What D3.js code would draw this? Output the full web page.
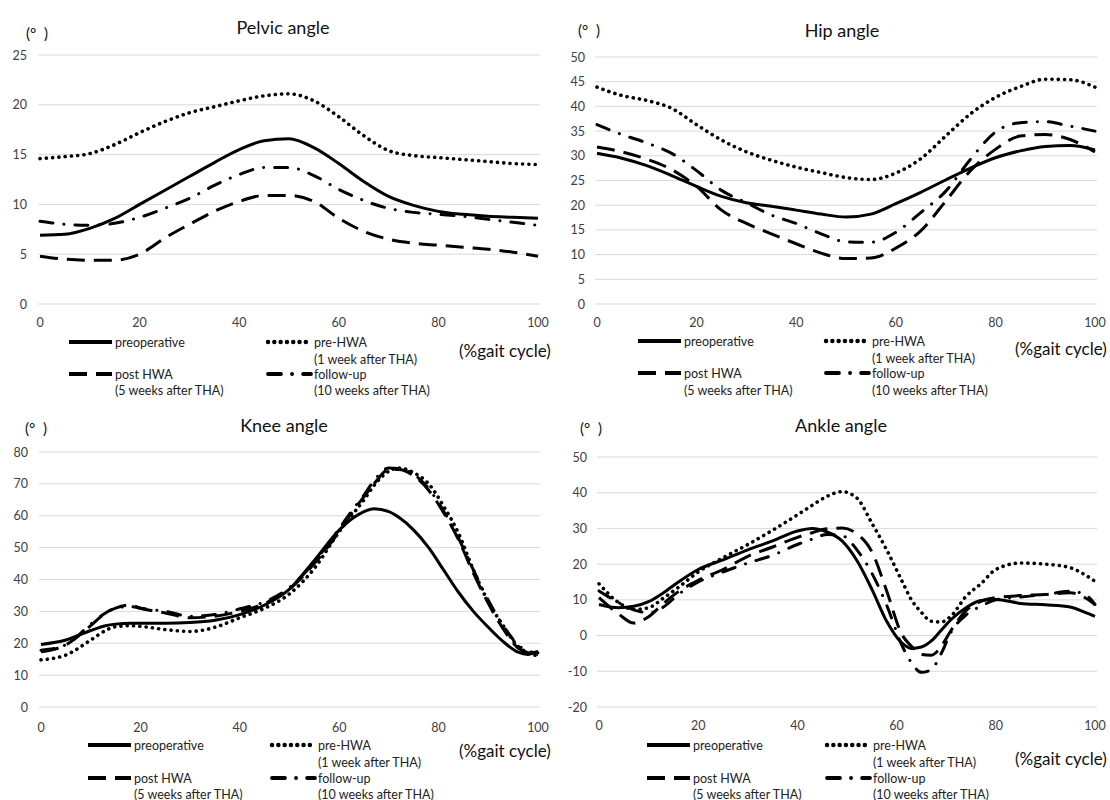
<!DOCTYPE html>
<html>
<head>
<meta charset="utf-8">
<script src="https://cdn.jsdelivr.net/npm/d3@7"></script>
<style>
  body { margin: 0; background: #fff; }
  svg { display: block; font-family: Lato, "Noto Sans", sans-serif; }
</style>
</head>
<body>
<svg id="chart" width="1110" height="800"></svg>
<script>
// ---- data ----
const seriesNames = ["preoperative", "pre-HWA", "post HWA", "follow-up"];
const seriesNotes = [null, "(1 week after THA)", "(5 weeks after THA)", "(10 weeks after THA)"];
const xTicks = [0, 20, 40, 60, 80, 100];

const pelvicX = [0,5,10,15,20,25,30,35,40,45,50,55,60,65,70,75,80,85,90,95,100];
const pelvicPreop   = [6.9,7.0,7.6,8.6,10.0,11.4,12.8,14.2,15.5,16.4,16.6,15.7,14.1,12.3,10.8,9.9,9.3,9.0,8.8,8.7,8.6];
const pelvicPreHWA  = [14.6,14.8,15.1,16.0,17.2,18.3,19.2,19.8,20.4,20.9,21.1,20.4,18.8,16.9,15.4,14.9,14.7,14.5,14.3,14.1,14.0];
const pelvicPostHWA = [4.8,4.5,4.4,4.4,5.0,6.6,8.0,9.3,10.3,10.9,10.9,10.3,8.6,7.3,6.5,6.1,5.9,5.7,5.5,5.2,4.8];
const pelvicFollow  = [8.3,8.0,7.9,8.1,8.7,9.6,10.6,11.9,13.0,13.7,13.7,12.9,11.5,10.4,9.6,9.2,9.0,8.8,8.5,8.2,7.9];
const pelvicTicks = [0,5,10,15,20,25];

const hipX = [0,5,10,15,20,25,30,35,40,45,50,55,60,65,70,75,80,85,90,95,100];
const hipPreop   = [30.5,29.5,28.0,26.0,23.8,21.8,20.5,19.8,19.0,18.2,17.6,18.2,20.3,22.6,25.1,27.5,29.6,31.0,31.9,32.1,31.2];
const hipPreHWA  = [43.9,42.2,41.2,39.6,36.3,33.2,30.8,29.1,27.7,26.6,25.6,25.2,26.5,29.4,34.0,38.5,41.8,44.0,45.5,45.4,43.9];
const hipPostHWA = [31.8,30.8,29.3,27.2,23.8,19.0,16.3,14.2,12.2,10.3,9.2,9.3,11.3,14.8,20.8,27.0,31.3,34.0,34.3,33.3,30.8];
const hipFollow  = [36.3,34.3,32.6,30.5,27.0,23.0,20.5,18.0,16.3,14.2,12.6,12.5,14.5,18.5,22.8,29.3,34.8,36.7,36.9,36.0,35.0];
const hipTicks = [0,5,10,15,20,25,30,35,40,45,50];

const kneeX = [0,5,10,13,15,18,20,25,30,35,40,45,50,55,60,63,65,67,70,72,75,78,81,84,87,90,93,96,98,100];
const kneePreop   = [19.6,21,24,25.5,26,26.3,26.3,26.3,26.5,27.2,29,32,37,46,55.5,59.5,61.3,62.2,61.3,59.5,55.5,50,43,36,30,25,20.5,17.2,16.5,17.5];
const kneePreHWA  = [14.8,16.3,21,24,25.2,25.5,25.3,24.3,23.7,25,28,31,35.5,43.5,55,61,65,69.5,74,75,73.5,70,63,54.5,43,33,25.5,19,17,16];
const kneePostHWA = [17.3,19.5,25.5,29.5,31,32,31,29.5,28,28.5,30,32.5,37,45,55,62,66,70,74.5,74.5,72.5,68,61,52.5,42,32.5,24.5,18.5,17,16.5];
const kneeFollow  = [17.8,19.5,26,29.5,31,31.5,31,30,28.5,29,30.8,33,37.5,45.5,56,62.5,66.5,71,75,74.8,73,68.5,61.5,53,43,33.5,25.5,19.5,17.5,17];
const kneeTicks = [0,10,20,30,40,50,60,70,80];

const ankleX = [0,4,7,10,13,16,20,25,30,35,40,43,46,49,52,55,58,61,63,65,67,69,71,74,77,80,85,90,95,98,100];
const anklePreop   = [8.7,7.8,8.2,9.5,12,15,18.5,21.2,24,26.5,29.3,30,29,26.5,21,13,4,-2,-3.6,-3.2,-1.5,1.5,4.5,7.8,9.8,10.1,9,8.6,8,6.5,5.4];
const anklePreHWA  = [14.5,9.2,7.3,7.8,10.5,13.5,17.8,21.8,25.5,29.5,33.8,36.5,39,40.3,38.5,31.5,24,15.5,10,6.5,4,3.8,5.5,11,14.5,18.5,20.3,20,19,17,15.2];
const anklePostHWA = [10.6,6,3.5,5.3,9,12.3,15.5,18.5,22.2,24.8,27.5,28.8,29.9,30.1,28.5,23.5,12.5,0.5,-3,-5.3,-5.5,-3,1.5,7,9.6,10.6,11.2,11.5,12,10.6,8.7];
const ankleFollow  = [12.5,9.2,7.2,6.4,8,11.5,15,17.8,20.3,22.5,25.5,27,28.3,28,24,17.5,8.5,-2.5,-7.6,-10.3,-9.5,-5,1,5.8,8.2,10,10.8,11.5,12.4,11.5,8.7];
const ankleTicks = [-20,-10,0,10,20,30,40,50];

// ---- line styles for the four series ----
const lineStyles = [
  { dash: null,             width: 3,   cap: "butt"  },
  { dash: "0.1 6.2",        width: 3.6, cap: "round" },
  { dash: "18 9",           width: 3,   cap: "butt"  },
  { dash: "13 11 0.1 11",   width: 3,   cap: "round" }
];

// ---- panels (layout lives here, values come from the arrays above) ----
const panels = [
  { title: "Pelvic angle", xs: pelvicX, series: [pelvicPreop, pelvicPreHWA, pelvicPostHWA, pelvicFollow],
    yTicks: pelvicTicks, x0: 40, x1: 538, yTop: 55, yBot: 304, titleX: 283, titleY: 27,
    unitX: 26, unitY: 33, tickRight: 27, xLabelY: 322,
    legend: { c1: 69, c2: 268, rows: [342, 359, 374, 390] }, gait: [459, 350] },
  { title: "Hip angle", xs: hipX, series: [hipPreop, hipPreHWA, hipPostHWA, hipFollow],
    yTicks: hipTicks, x0: 597, x1: 1095, yTop: 57, yBot: 304, titleX: 842, titleY: 30,
    unitX: 578, unitY: 30, tickRight: 585, xLabelY: 322,
    legend: { c1: 638, c2: 826, rows: [341, 358, 373, 390] }, gait: [1015, 348] },
  { title: "Knee angle", xs: kneeX, series: [kneePreop, kneePreHWA, kneePostHWA, kneeFollow],
    yTicks: kneeTicks, x0: 41, x1: 538, yTop: 452, yBot: 707, titleX: 284, titleY: 425,
    unitX: 25, unitY: 428, tickRight: 28, xLabelY: 727,
    legend: { c1: 88, c2: 272, rows: [745, 762, 778, 794] }, gait: [459, 750] },
  { title: "Ankle angle", xs: ankleX, series: [anklePreop, anklePreHWA, anklePostHWA, ankleFollow],
    yTicks: ankleTicks, x0: 599, x1: 1095, yTop: 457, yBot: 707, titleX: 841, titleY: 425,
    unitX: 580, unitY: 428, tickRight: 587, xLabelY: 725,
    legend: { c1: 647, c2: 827, rows: [745, 762, 778, 794] }, gait: [1015, 758] }
];

const svg = d3.select("#chart");

function styleLine(sel, st) {
  sel.attr("fill", "none")
     .attr("stroke", "#000")
     .attr("stroke-width", st.width)
     .attr("stroke-linecap", st.cap)
     .attr("stroke-linejoin", "round");
  if (st.dash) sel.attr("stroke-dasharray", st.dash);
  return sel;
}

panels.forEach(p => {
  const g = svg.append("g");
  const yMin = d3.min(p.yTicks), yMax = d3.max(p.yTicks);
  const x = d3.scaleLinear().domain([0, 100]).range([p.x0, p.x1]);
  const y = d3.scaleLinear().domain([yMin, yMax]).range([p.yBot, p.yTop]);

  // gridlines
  g.selectAll("line.grid").data(p.yTicks).enter().append("line")
    .attr("x1", p.x0 - 2).attr("x2", p.x1 + 2)
    .attr("y1", d => y(d)).attr("y2", d => y(d))
    .attr("stroke", "#d9d9d9").attr("stroke-width", 1);

  // y tick labels
  g.selectAll("text.ytick").data(p.yTicks).enter().append("text")
    .attr("x", p.tickRight).attr("y", d => y(d))
    .attr("text-anchor", "end").attr("dominant-baseline", "central")
    .attr("font-size", 12.5).attr("fill", "#404040")
    .text(d => d);

  // x tick labels
  g.selectAll("text.xtick").data(xTicks).enter().append("text")
    .attr("x", d => x(d)).attr("y", p.xLabelY)
    .attr("text-anchor", "middle").attr("dominant-baseline", "central")
    .attr("font-size", 12.5).attr("fill", "#404040")
    .text(d => d);

  // title and unit
  g.append("text").attr("x", p.titleX).attr("y", p.titleY)
    .attr("text-anchor", "middle").attr("dominant-baseline", "central")
    .attr("font-size", 18).attr("fill", "#111").text(p.title);
  g.append("text").attr("x", p.unitX).attr("y", p.unitY)
    .attr("dominant-baseline", "central").attr("font-size", 15)
    .attr("fill", "#111").style("white-space", "pre").text("(°  )");

  // curves
  const line = d3.line()
    .x(d => x(d[0])).y(d => y(d[1]))
    .curve(d3.curveMonotoneX);
  p.series.forEach((vals, i) => {
    const pts = p.xs.map((xv, k) => [xv, vals[k]]);
    styleLine(g.append("path").datum(pts).attr("d", line), lineStyles[i]);
  });

  // legend
  const L = p.legend;
  const slots = [
    { sx: L.c1, row: 0 }, { sx: L.c2, row: 0 },
    { sx: L.c1, row: 2 }, { sx: L.c2, row: 2 }
  ];
  slots.forEach((s, i) => {
    const yy = L.rows[s.row];
    styleLine(g.append("line")
      .attr("x1", s.sx).attr("x2", s.sx + 43)
      .attr("y1", yy).attr("y2", yy), { ...lineStyles[i], width: lineStyles[i].width + 0.8 });
    g.append("text").attr("x", s.sx + 46).attr("y", yy)
      .attr("dominant-baseline", "central").attr("font-size", 12.5)
      .attr("fill", "#222").text(seriesNames[i]);
    if (seriesNotes[i]) {
      g.append("text").attr("x", s.sx + 46).attr("y", L.rows[s.row + 1])
        .attr("dominant-baseline", "central").attr("font-size", 12.5)
        .attr("fill", "#222").text(seriesNotes[i]);
    }
  });

  g.append("text").attr("x", p.gait[0]).attr("y", p.gait[1])
    .attr("dominant-baseline", "central").attr("font-size", 17)
    .attr("fill", "#111").text("(%gait cycle)");
});
</script>
</body>
</html>
